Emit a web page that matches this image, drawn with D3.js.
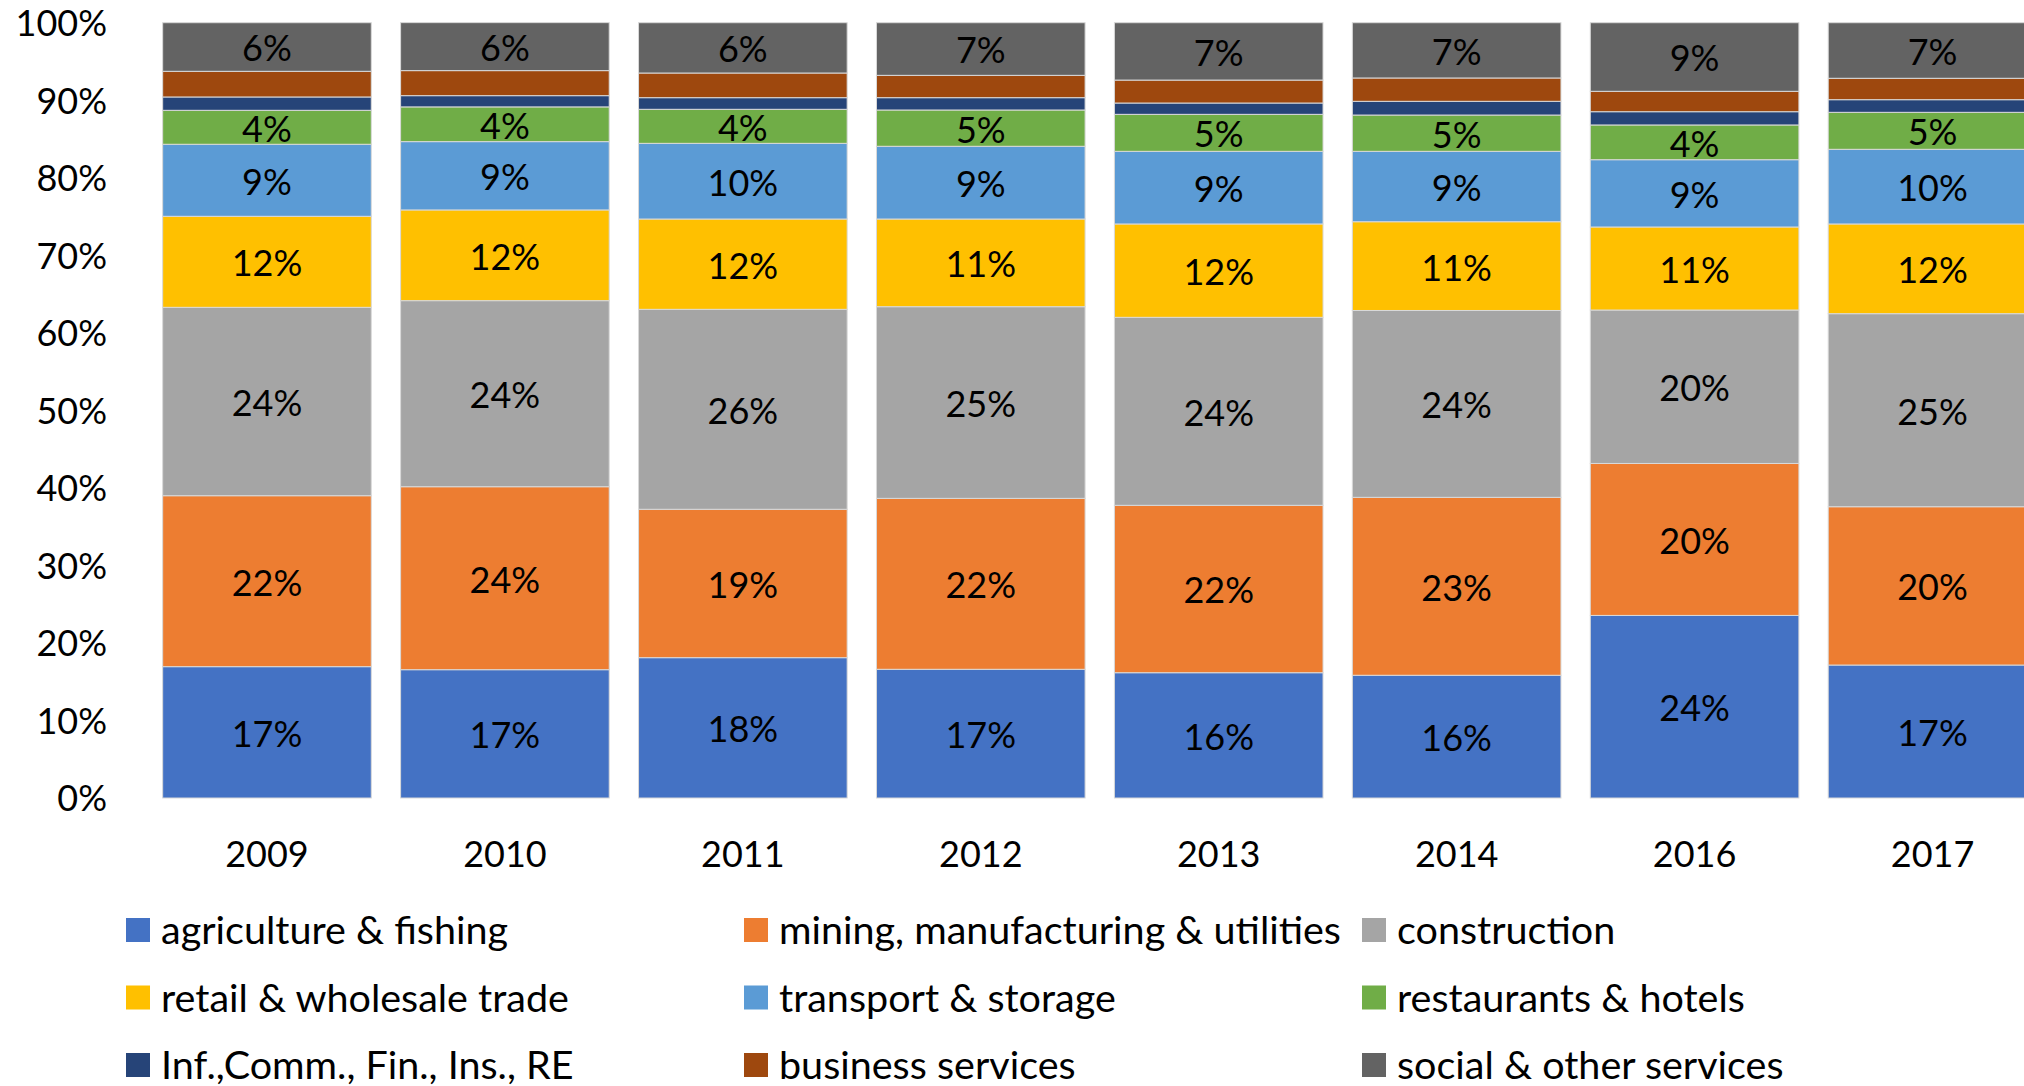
<!DOCTYPE html>
<html>
<head>
<meta charset="utf-8">
<script src="https://cdn.jsdelivr.net/npm/d3@7"></script>
<style>
    body { margin: 0; background: #fff; }
    svg text { font-family: Lato, "Open Sans", sans-serif; fill: #000; }
</style>
</head>
<body>
<div id="chart"></div>
<script>
// years on the x axis
const years = ["2009", "2010", "2011", "2012", "2013", "2014", "2016", "2017"];

// share of each sector, per year (%)
const agriculture   = [16.94, 16.55, 18.10, 16.60, 16.16, 15.83, 23.55, 17.15];
const mining        = [22.05, 23.60, 19.14, 22.05, 21.59, 22.95, 19.60, 20.42];
const construction  = [24.30, 24.00, 25.79, 24.72, 24.25, 24.10, 19.79, 24.90];
const retail        = [11.74, 11.70, 11.65, 11.31, 12.04, 11.45, 10.71, 11.57];
const transport     = [ 9.29,  8.81,  9.76,  9.38,  9.37,  9.08,  8.68,  9.63];
const restaurants   = [ 4.38,  4.48,  4.39,  4.68,  4.77,  4.68,  4.48,  4.77];
const infComm       = [ 1.72,  1.45,  1.50,  1.59,  1.46,  1.77,  1.71,  1.63];
const business      = [ 3.31,  3.23,  3.18,  2.88,  2.96,  3.01,  2.63,  2.76];
const social        = [ 6.27,  6.19,  6.49,  6.79,  7.40,  7.13,  8.85,  7.17];

const yTicks = [0, 10, 20, 30, 40, 50, 60, 70, 80, 90, 100];

const seriesNames = ["agriculture & fishing", "mining, manufacturing & utilities", "construction",
    "retail & wholesale trade", "transport & storage", "restaurants & hotels",
    "Inf.,Comm., Fin., Ins., RE", "business services", "social & other services"];
const seriesValues = [agriculture, mining, construction, retail, transport, restaurants, infComm, business, social];
const seriesColors = ["#4472C4", "#ED7D31", "#A5A5A5", "#FFC000", "#5B9BD5", "#70AD47", "#264478", "#9E480E", "#636363"];
// Inf/Comm and business services carry no data labels
const showLabel = [true, true, true, true, true, true, false, false, true];

const width = 2024, height = 1086;
const fontSize = 36;
const legendFontSize = 39.5;

// build rows for the stack
let rows = years.map(function (yr, i) {
    let row = {year: yr};
    seriesNames.forEach(function (name, s) { row[name] = seriesValues[s][i]; });
    return row;
});

let stack = d3.stack().keys(seriesNames);
let stacked = stack(rows);

let svg = d3.select("#chart").append("svg")
    .attr("width", width)
    .attr("height", height);

let x = d3.scaleBand()
    .domain(years)
    .range([148, 2051.5])
    .paddingInner(0.1232)
    .paddingOuter(0.0616);

let y = d3.scaleLinear()
    .domain([0, 100])
    .range([798, 22.7]);

// bars
let layers = svg.append("g").selectAll("g.layer")
    .data(stacked)
    .enter().append("g")
    .attr("class", "layer")
    .attr("fill", function (d, i) { return seriesColors[i]; });

layers.selectAll("rect")
    .data(function (d) { return d; })
    .enter().append("rect")
    .attr("x", function (d) { return x(d.data.year); })
    .attr("y", function (d) { return y(d[1]); })
    .attr("width", x.bandwidth())
    .attr("height", function (d) { return y(d[0]) - y(d[1]); })
    .style("stroke", "#d9d9d9")
    .style("stroke-width", 1);

// data labels
layers.filter(function (d, i) { return showLabel[i]; })
    .selectAll("text")
    .data(function (d) { return d; })
    .enter().append("text")
    .attr("x", function (d) { return x(d.data.year) + x.bandwidth() / 2; })
    .attr("y", function (d) { return (y(d[0]) + y(d[1])) / 2; })
    .attr("dy", "0.4em")
    .attr("text-anchor", "middle")
    .style("font-size", fontSize + "px")
    .text(function (d) { return Math.round(d[1] - d[0]) + "%"; });

// y axis
let yAxis = svg.append("g")
    .attr("transform", "translate(115,0)")
    .call(d3.axisLeft(y).tickValues(yTicks).tickSize(0).tickPadding(8)
        .tickFormat(function (d) { return d + "%"; }));
yAxis.select(".domain").remove();
yAxis.selectAll("text")
    .attr("dy", "0.36em")
    .style("font-size", fontSize + "px")
    .style("font-family", "Lato, sans-serif")
    .attr("fill", "#000");

// x axis
let xAxis = svg.append("g")
    .attr("transform", "translate(0,798)")
    .call(d3.axisBottom(x).tickSize(0));
xAxis.select(".domain").remove();
xAxis.selectAll("text")
    .attr("y", 56)
    .attr("dy", "0.36em")
    .style("font-size", fontSize + "px")
    .style("font-family", "Lato, sans-serif")
    .attr("fill", "#000");

// legend: 3 columns, 3 rows, filled row by row
const legCols = [126, 744, 1362];
const legRows = [930, 997.5, 1065];
const sw = 24;

let legend = svg.append("g").selectAll("g.legend")
    .data(seriesNames)
    .enter().append("g")
    .attr("class", "legend")
    .attr("transform", function (d, i) {
        return "translate(" + legCols[i % 3] + "," + legRows[Math.floor(i / 3)] + ")";
    });

legend.append("rect")
    .attr("x", 0)
    .attr("y", -sw / 2)
    .attr("width", sw)
    .attr("height", sw)
    .style("fill", function (d, i) { return seriesColors[i]; });

legend.append("text")
    .attr("x", sw + 11)
    .attr("y", 0)
    .attr("dy", "0.36em")
    .style("font-size", legendFontSize + "px")
    .text(function (d) { return d; });
</script>
</body>
</html>
